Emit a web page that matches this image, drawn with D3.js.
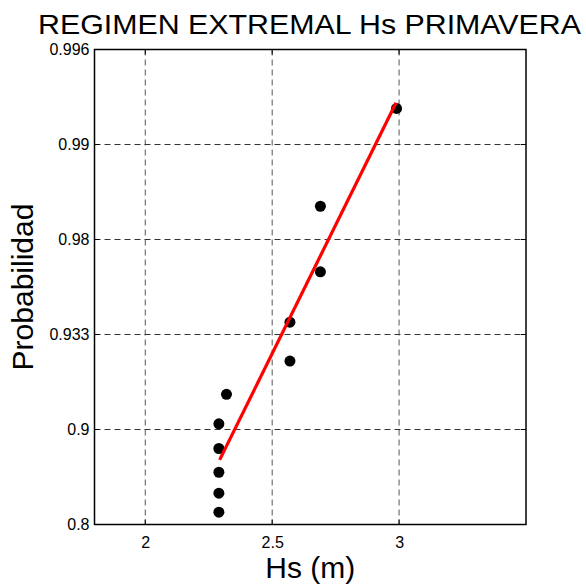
<!DOCTYPE html>
<html>
<head>
<meta charset="utf-8">
<script src="https://cdn.jsdelivr.net/npm/d3@7"></script>
<style>
  html, body { margin: 0; padding: 0; background: #fff; }
  svg { display: block; font-family: "Liberation Sans", Arial, Helvetica, sans-serif; }
</style>
</head>
<body>
<svg id="chart" width="586" height="585"></svg>
<script>
// ---- data ----
const title = "REGIMEN EXTREMAL Hs PRIMAVERA";
const xLabel = "Hs (m)";
const yLabel = "Probabilidad";
const xTicks = [2, 2.5, 3];
const xTickLabels = ["2", "2.5", "3"];
// probability paper: labelled ticks are equally spaced (position index 0..5)
const yTickPos = [0, 1, 2, 3, 4, 5];
const yTickLabels = ["0.8", "0.9", "0.933", "0.98", "0.99", "0.996"];
// observed Hs values and their position on the probability axis (tick-index units)
const obsHs  = [2.99, 2.69, 2.69, 2.57, 2.57, 2.32, 2.29, 2.29, 2.29, 2.29, 2.29];
const obsPos = [4.38, 3.35, 2.66, 2.13, 1.72, 1.37, 1.06, 0.80, 0.55, 0.33, 0.13];
// fitted line end points
const fitHs  = [2.293, 2.988];
const fitPos = [0.68, 4.44];

(function () {
const svg = d3.select("#chart");
const pL = 94.5, pR = 526, pT = 49.5, pB = 524.5;
const x = d3.scaleLinear().domain([1.8, 3.5]).range([pL, pR]);
const y = d3.scaleLinear().domain([0, 5]).range([pB, pT]);

// grid
const grid = svg.append("g");
grid.selectAll("line.vg").data(xTicks).join("line")
  .attr("x1", d => x(d)).attr("x2", d => x(d))
  .attr("y1", pT).attr("y2", pB)
  .attr("stroke", "#555").attr("stroke-width", 1)
  .attr("stroke-dasharray", "6,4");
grid.selectAll("line.hg").data(yTickPos.slice(1, -1)).join("line")
  .attr("x1", pL).attr("x2", pR)
  .attr("y1", d => y(d)).attr("y2", d => y(d))
  .attr("stroke", "#333").attr("stroke-width", 1)
  .attr("stroke-dasharray", "6,4");

// axes
const xAxis = d3.axisBottom(x).tickValues(xTicks)
  .tickFormat((d, i) => xTickLabels[i]).tickSize(0).tickPadding(12);
const gx = svg.append("g").attr("transform", `translate(0,${pB})`).call(xAxis);
gx.select(".domain").remove();
gx.selectAll("text").attr("font-size", 16).attr("fill", "#000")
  .attr("font-family", "Liberation Sans, Arial, sans-serif");

const yAxis = d3.axisLeft(y).tickValues(yTickPos)
  .tickFormat((d, i) => yTickLabels[i]).tickSize(0).tickPadding(5);
const gy = svg.append("g").attr("transform", `translate(${pL},0)`).call(yAxis);
gy.select(".domain").remove();
gy.selectAll("text").attr("font-size", 16).attr("fill", "#000")
  .attr("font-family", "Liberation Sans, Arial, sans-serif");

// inward tick marks
svg.append("g").selectAll("line").data(xTicks).join("line")
  .attr("x1", d => x(d)).attr("x2", d => x(d))
  .attr("y1", pB).attr("y2", pB - 5).attr("stroke", "#000");
svg.append("g").selectAll("line").data(xTicks).join("line")
  .attr("x1", d => x(d)).attr("x2", d => x(d))
  .attr("y1", pT).attr("y2", pT + 5).attr("stroke", "#000");
svg.append("g").selectAll("line").data(yTickPos).join("line")
  .attr("x1", pL).attr("x2", pL + 5)
  .attr("y1", d => y(d)).attr("y2", d => y(d)).attr("stroke", "#000");
svg.append("g").selectAll("line").data(yTickPos).join("line")
  .attr("x1", pR).attr("x2", pR - 5)
  .attr("y1", d => y(d)).attr("y2", d => y(d)).attr("stroke", "#000");

svg.append("rect")
  .attr("x", pL).attr("y", pT)
  .attr("width", pR - pL).attr("height", pB - pT)
  .attr("fill", "none").attr("stroke", "#000").attr("stroke-width", 1.5);

// points
svg.append("g").selectAll("circle").data(obsHs.map((h, i) => [h, obsPos[i]])).join("circle")
  .attr("cx", d => x(d[0])).attr("cy", d => y(d[1]))
  .attr("r", 5.5).attr("fill", "#000");

// fitted line
const line = d3.line().x(d => x(d[0])).y(d => y(d[1]));
svg.append("path")
  .datum(fitHs.map((h, i) => [h, fitPos[i]]))
  .attr("d", line)
  .attr("fill", "none").attr("stroke", "#ff0000").attr("stroke-width", 3.2);

// labels
svg.append("text")
  .attr("x", 38).attr("y", 33.5)
  .attr("font-size", 28).attr("fill", "#000")
  .attr("textLength", 543).attr("lengthAdjust", "spacingAndGlyphs")
  .text(title);
svg.append("text")
  .attr("x", (pL + pR) / 2).attr("y", 578)
  .attr("text-anchor", "middle").attr("font-size", 30).attr("fill", "#000")
  .text(xLabel);
svg.append("text")
  .attr("transform", `translate(33,${(pT + pB) / 2}) rotate(-90)`)
  .attr("text-anchor", "middle").attr("font-size", 30).attr("fill", "#000")
  .text(yLabel);
})();
</script>
</body>
</html>
